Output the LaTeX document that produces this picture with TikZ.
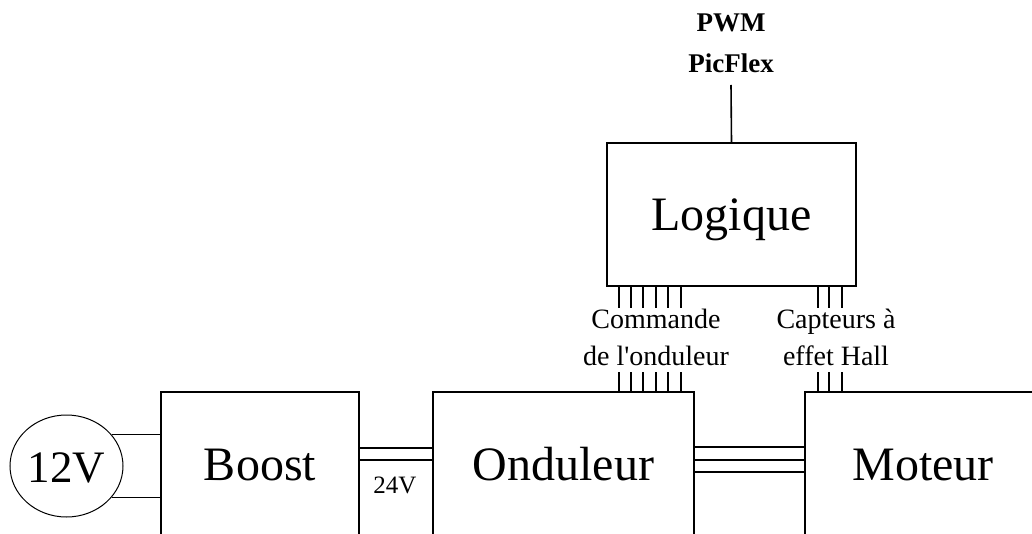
\documentclass[tikz,border=0pt]{standalone}
\usepackage{fontspec}
\setmainfont{Liberation Serif}
\usetikzlibrary{shapes.geometric}
\begin{document}
\begin{tikzpicture}[x=1pt,y=-1pt,
  blk/.style={draw, line width=1.6pt, inner sep=0pt, font=\fontsize{48}{48}\selectfont, text height=32pt, text depth=0pt},
  wire/.style={line width=1.6pt},
  tick/.style={line width=1.4pt},
  small/.style={font=\fontsize{28}{37}\selectfont, align=center, inner sep=0pt},
  boldlbl/.style={font=\bfseries\fontsize{27}{41}\selectfont, align=center, inner sep=0pt}]
\useasboundingbox (0,0) rectangle (1032,534);
\clip (0,0) rectangle (1032,534);
\node[blk, minimum width=249pt, minimum height=143pt] (logique) at (731.5,214.5) {Logique};
\node[blk, minimum width=198pt, minimum height=144pt] (boost) at (260,464) {Boost};
\node[blk, minimum width=261pt, minimum height=144pt] (ond) at (563.5,464) {Onduleur};
\node[blk, minimum width=236pt, minimum height=144pt] (mot) at (923,464) {Moteur};
\node[ellipse, draw, line width=1pt, minimum width=113pt, minimum height=102pt, inner sep=0pt,
  font=\fontsize{45}{45}\selectfont, text height=32pt, text depth=0pt] (src) at (66.5,466) {12V};
% source wires
\draw[wire] (src.35) -- (boost.west |- src.35);
\draw[wire] (src.-35) -- (boost.west |- src.-35);
% 24V bus
\draw[wire] (boost.east |- 0,448) -- (ond.west |- 0,448);
\draw[wire] (boost.east |- 0,460) -- (ond.west |- 0,460);
\node[small, font=\fontsize{25}{30}\selectfont, anchor=base] (v24) at (395,493) {24V};
% three-phase
\draw[wire] (ond.east |- 0,447) -- (mot.west |- 0,447);
\draw[wire] (ond.east |- 0,460) -- (mot.west |- 0,460);
\draw[wire] (ond.east |- 0,472) -- (mot.west |- 0,472);
% PWM input
\node[boldlbl, anchor=base] (pwm) at (731,73) {PWM\\PicFlex};
\coordinate (pwmend) at (731,85);
\draw[wire] (logique.north) -- (pwmend);
% command ticks
\foreach \x in {619,631,643,656,668,681} {
  \draw[tick] (logique.south -| \x,0) -- (\x,308);
  \draw[tick] (ond.north -| \x,0) -- (\x,372);
}
\foreach \x in {818,829,842} {
  \draw[tick] (logique.south -| \x,0) -- (\x,308);
  \draw[tick] (mot.north -| \x,0) -- (\x,372);
}
\node[small, anchor=base] (cmd) at (656,365) {Commande\\de l\textquotesingle onduleur};
\node[small, anchor=base] (hall) at (836,365) {Capteurs à\\effet Hall};
\end{tikzpicture}
\end{document}
